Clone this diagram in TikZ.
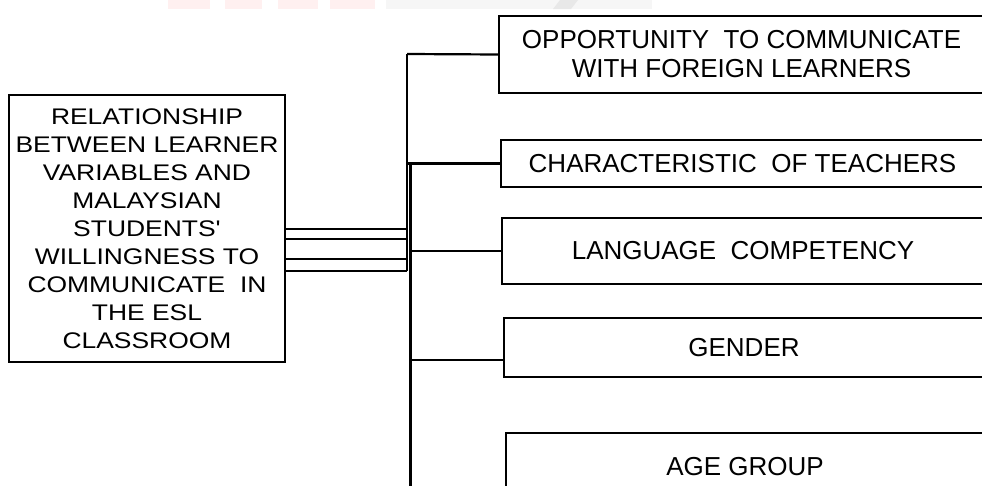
\documentclass[tikz,border=0pt]{standalone}
\usepackage{fontspec}
\setmainfont{Liberation Sans}
\newfontfamily\leftfont{Liberation Sans}[FakeStretch=1.17]
\begin{document}
\begin{tikzpicture}[x=1pt,y=-1pt,
  bx/.style={draw=black,line width=2.2pt,rectangle,inner sep=0pt,outer sep=0pt,align=center},
  rbox/.style={bx,anchor=north west,font=\fontsize{26}{29}\selectfont},
  link/.style={draw=black,line width=2.2pt}]
\clip (0,0) rectangle (982,485);
\fill[white] (0,0) rectangle (982,485);
% faint watermark at the top
\fill[red!6] (168,0) rectangle (210,9);
\fill[red!6] (225,0) rectangle (262,9);
\fill[red!6] (278,0) rectangle (318,9);
\fill[red!6] (330,0) rectangle (375,9);
\fill[gray!7] (386,0) rectangle (652,9);
\fill[gray!18] (553,9) -- (560,0) -- (578,0) -- (571,9) -- cycle;
% main box
\node[bx,minimum width=276pt,minimum height=267pt,anchor=north west,
  font=\leftfont\fontsize{22.6}{28}\selectfont] (main) at (9,95)
  {RELATIONSHIP\\BETWEEN LEARNER\\VARIABLES AND\\MALAYSIAN\\STUDENTS'\\WILLINGNESS TO\\COMMUNICATE~ IN\\THE ESL\\CLASSROOM};
% right boxes
\node[rbox,minimum width=485pt,minimum height=77pt] (b1) at (499,16)
  {OPPORTUNITY~ TO COMMUNICATE\\WITH FOREIGN LEARNERS};
\node[rbox,minimum width=483pt,minimum height=47pt] (b2) at (501,140)
  {CHARACTERISTIC~ OF TEACHERS};
\node[rbox,minimum width=482pt,minimum height=66pt] (b3) at (502,218)
  {LANGUAGE~ COMPETENCY};
\node[rbox,minimum width=480pt,minimum height=59pt] (b4) at (504,318)
  {GENDER};
\node[rbox,minimum width=478pt,minimum height=67pt] (b5) at (506,433)
  {AGE GROUP};
% junction coordinates
\coordinate (ta) at (407,54);
\coordinate (tb) at (407,271);
\coordinate (ua) at (410.5,163);
\coordinate (ub) at (410.5,490);
\coordinate (d1) at (407,229);
\coordinate (d2) at (407,239);
\coordinate (d3) at (407,259);
\coordinate (d4) at (407,271);
\coordinate (g) at (410.5,360);
% double connector lines
\foreach \d in {d1,d2,d3,d4}
  \draw[link] (main.east |- \d) -- (\d);
% vertical bus
\draw[link] (ta) -- (tb);
\draw[link] (ua) -- (ub);
% branches
\draw[link] (ta) -- (b1.west);
\draw[link] (b2.west -| ta) -- (b2.west);
\draw[link] (b3.west -| ua) -- (b3.west);
\draw[link] (g) -- (g -| b4.west);
\end{tikzpicture}
\end{document}
